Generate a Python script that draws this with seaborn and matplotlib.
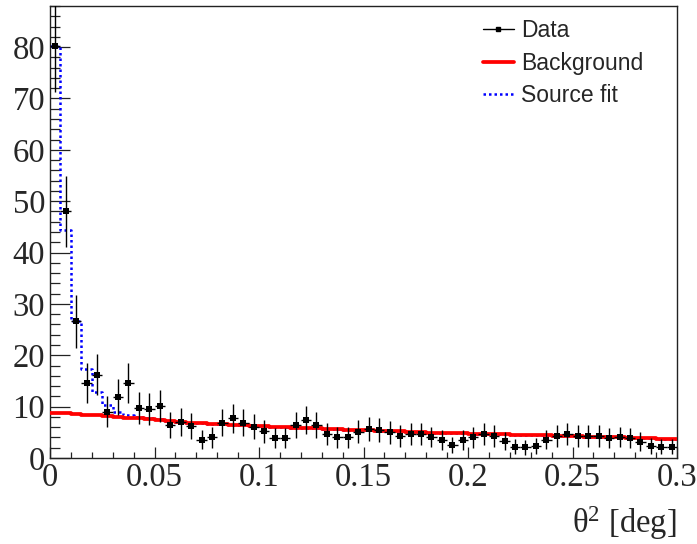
import numpy as np
import pandas as pd
import matplotlib
matplotlib.use("Agg")
import matplotlib.pyplot as plt
from matplotlib.lines import Line2D
from matplotlib.ticker import MultipleLocator, FuncFormatter
import seaborn as sns

# theta^2 histogram: 60 bins of width 0.005 deg^2 from 0 to 0.3
bin_width = 0.005
n_bins = 60

counts = [80.2, 48.0, 26.6, 14.6, 16.2, 9.0, 11.9, 14.6, 9.7, 9.5,
          10.1, 6.4, 7.0, 6.2, 3.6, 4.0, 6.9, 7.7, 6.9, 6.1,
          5.2, 3.9, 3.9, 6.5, 7.4, 6.4, 4.6, 4.0, 4.0, 5.1,
          5.6, 5.4, 5.0, 4.3, 4.6, 4.6, 4.1, 3.5, 2.5, 3.5,
          4.0, 4.6, 4.3, 3.3, 2.2, 2.1, 2.4, 3.6, 4.3, 4.6,
          4.3, 4.3, 4.3, 3.8, 4.1, 3.8, 3.2, 2.4, 2.2, 2.2]

background = [8.8, 8.7, 8.5, 8.4, 8.3, 8.1, 8.0, 7.8, 7.7, 7.5,
              7.4, 7.2, 7.1, 6.9, 6.8, 6.7, 6.6, 6.5, 6.4, 6.3,
              6.2, 6.1, 6.0, 5.9, 5.8, 5.8, 5.7, 5.6, 5.5, 5.5,
              5.4, 5.3, 5.2, 5.2, 5.1, 5.0, 4.9, 4.9, 4.8, 4.8,
              4.7, 4.7, 4.6, 4.6, 4.5, 4.5, 4.4, 4.4, 4.3, 4.3,
              4.2, 4.1, 4.1, 4.0, 4.0, 3.9, 3.9, 3.8, 3.7, 3.7]

# fitted source + background in the innermost bins; beyond them the fit is the background
source_head = [80.2, 44.3, 26.6, 17.3, 12.9, 10.3, 8.9, 8.3, 8.0, 7.8, 7.6]
source_fit = source_head + background[len(source_head):]

legend_labels = ["Data", "Background", "Source fit"]

edges = np.arange(n_bins + 1) * bin_width
centers = edges[:-1] + bin_width / 2
counts_arr = np.array(counts)
errors = np.sqrt(counts_arr)

sns.set_style("ticks")
plt.rcParams["font.family"] = ["Liberation Serif", "DejaVu Serif"]
plt.rcParams["mathtext.fontset"] = "custom"
plt.rcParams["mathtext.rm"] = "Liberation Serif"
plt.rcParams["mathtext.it"] = "Liberation Serif"

fig = plt.figure(figsize=(6.97, 5.44), dpi=100)
ax = fig.add_axes([50 / 697, 1 - 458 / 544, 627 / 697, 452 / 544])

# step curves: repeat the last value so the final bin is closed at 0.3
src_df = pd.DataFrame({"x": edges, "y": source_fit + [source_fit[-1]]})
bkg_df = pd.DataFrame({"x": edges, "y": background + [background[-1]]})

dotted = (0, (1.0, 1.2))
sns.lineplot(data=src_df, x="x", y="y", ax=ax, estimator=None, sort=False,
             drawstyle="steps-post", color="#0000ff", linewidth=1.8,
             linestyle=dotted, zorder=2)
sns.lineplot(data=bkg_df, x="x", y="y", ax=ax, estimator=None, sort=False,
             drawstyle="steps-post", color="#ff0000", linewidth=2.7, zorder=3)

ax.errorbar(centers, counts_arr, xerr=bin_width / 2, yerr=errors, fmt="none",
            ecolor="black", elinewidth=1.0, capsize=0, zorder=4)
sns.scatterplot(x=centers, y=counts_arr, ax=ax, marker="s", s=24, color="black",
                edgecolor="black", linewidth=0, zorder=5)

ax.set_xlim(0, 0.3)
ax.set_ylim(0, 88)
ax.xaxis.set_major_locator(MultipleLocator(0.05))
ax.xaxis.set_minor_locator(MultipleLocator(0.01))
ax.yaxis.set_major_locator(MultipleLocator(10))
ax.yaxis.set_minor_locator(MultipleLocator(2))
ax.xaxis.set_major_formatter(FuncFormatter(lambda v, p: f"{v:g}"))

ax.tick_params(axis="both", which="both", direction="in", labelsize=23.5,
               color="#222222", width=0.9, top=False, right=False)
ax.tick_params(axis="y", which="major", length=14.5, pad=3.5)
ax.tick_params(axis="y", which="minor", length=7.2)
ax.tick_params(axis="x", which="major", length=8.0, pad=3.0)
ax.tick_params(axis="x", which="minor", length=4.3)

for side in ["left", "right", "top", "bottom"]:
    ax.spines[side].set_visible(True)
    ax.spines[side].set_color("#222222")
    ax.spines[side].set_linewidth(1.0)

ax.set_xlabel("")
ax.set_ylabel("")
fig.text(677 / 697, 1 - 523 / 544, r"θ$^{2}$ [deg]", ha="right", va="center",
         fontsize=23.5)

handles = [
    Line2D([], [], color="black", lw=1.0, marker="s", markersize=3),
    Line2D([], [], color="#ff0000", lw=2.7),
    Line2D([], [], color="#0000ff", lw=1.8, linestyle=dotted),
]
ax.legend(handles, legend_labels, loc="upper left",
          bbox_to_anchor=(483 / 697, 1 - 19 / 544), bbox_transform=fig.transFigure,
          frameon=False, numpoints=1, handlelength=1.35, handletextpad=0.3,
          labelspacing=0.42, borderpad=0, borderaxespad=0,
          prop={"family": "Liberation Sans", "size": 16.5})

fig.savefig("out.png", dpi=100)
